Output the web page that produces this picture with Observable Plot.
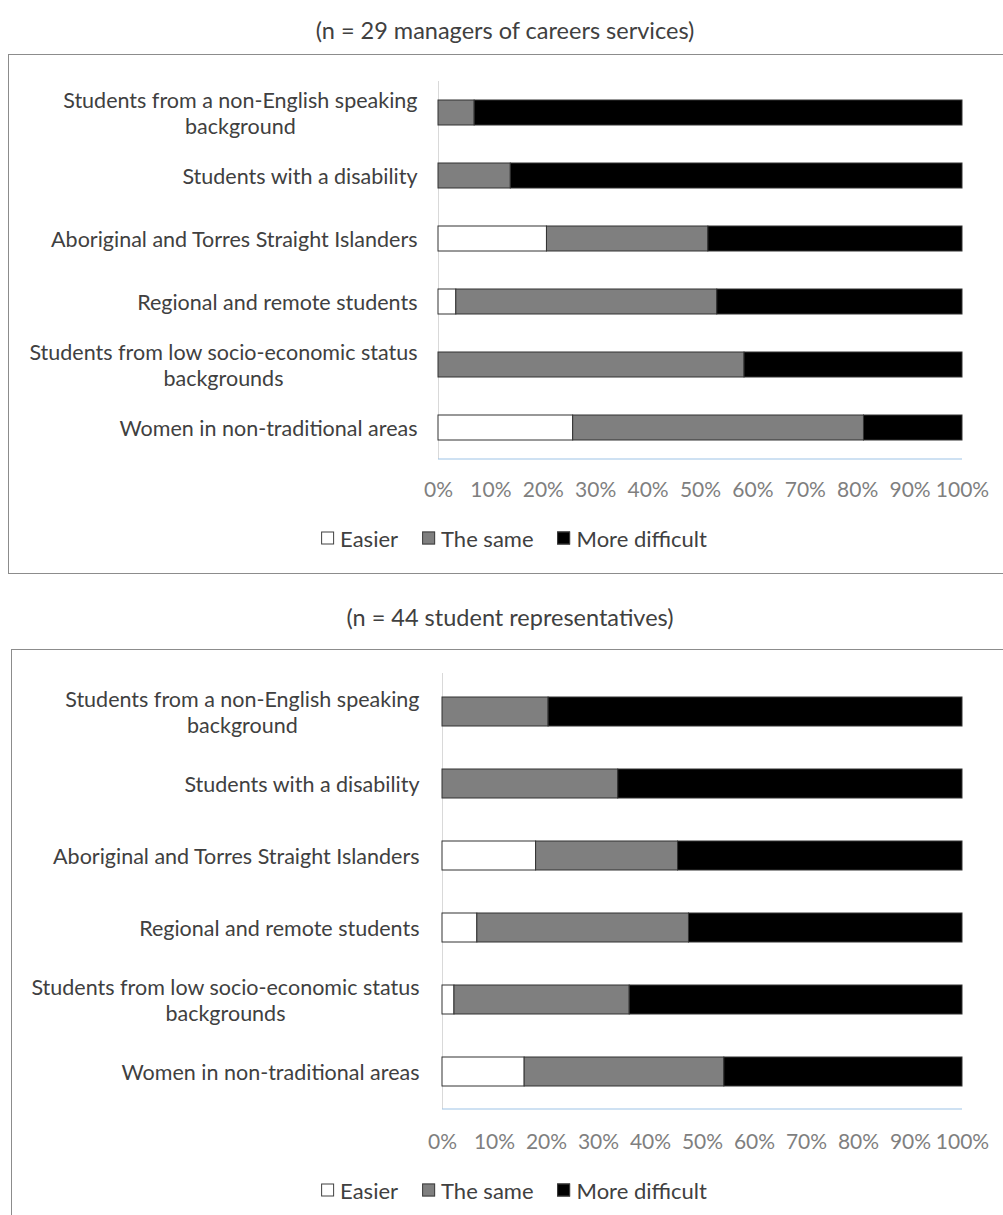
<!DOCTYPE html>
<html>
<head>
<meta charset="utf-8">
<script src="https://cdn.jsdelivr.net/npm/d3@7"></script>
<script src="https://cdn.jsdelivr.net/npm/@observablehq/plot@0.6"></script>
<style>
  body { margin: 0; background: #fff; font-family: Lato, "Open Sans", sans-serif; }
  #page { position: relative; width: 1003px; height: 1215px; overflow: hidden; }
  .panel { position: absolute; border: 1px solid #8c8c8c; border-right: none; box-sizing: border-box; }
  .title { position: absolute; transform: translate(-50%, -50%); font-size: 23.5px; color: #404040; white-space: nowrap; }
  .chart { position: absolute; left: 0; }
  .legend { position: absolute; transform: translate(-50%, -50%); display: flex; gap: 24px; align-items: center;
            font-size: 22px; color: #404040; white-space: nowrap; }
  .legend .item { display: flex; align-items: center; gap: 6px; }
  .legend .sw { width: 13px; height: 13px; border: 1px solid #404040; box-sizing: border-box; }
</style>
</head>
<body>
<div id="page"></div>
<script>
// Groups of students, listed top to bottom
const categories = [
  "Non-English speaking background",
  "Disability",
  "Aboriginal and Torres Strait",
  "Regional and remote",
  "Low socio-economic status",
  "Women in non-traditional areas"
];
const categoryLabels = [
  "Students from a non-English speaking\nbackground",
  "Students with a disability",
  "Aboriginal and Torres Straight Islanders",
  "Regional and remote students",
  "Students from low socio-economic status\nbackgrounds",
  "Women in non-traditional areas"
];

// Response options and their fills
const responses = ["Easier", "The same", "More difficult"];
const responseColors = ["#ffffff", "#7f7f7f", "#000000"];

// Axis ticks (percent)
const tickValues = [0, 10, 20, 30, 40, 50, 60, 70, 80, 90, 100];

// Managers of careers services (n = 29), percent of respondents
const managersEasier = [0, 0, 20.7, 3.4, 0, 25.7];
const managersSame   = [6.9, 13.8, 30.8, 49.8, 58.4, 55.5];
const managersMore   = [93.1, 86.2, 48.5, 46.8, 41.6, 18.8];

// Student representatives (n = 44), percent of respondents
const studentsEasier = [0, 0, 18.0, 6.7, 2.3, 15.8];
const studentsSame   = [20.4, 33.8, 27.3, 40.7, 33.7, 38.4];
const studentsMore   = [79.6, 66.2, 54.7, 52.6, 64.0, 45.8];

const panelTitles = [
  "(n = 29 managers of careers services)",
  "(n = 44 student representatives)"
];

const page = document.getElementById("page");

function drawPanel(layout, title, easier, same, more) {
  // framed box
  const box = document.createElement("div");
  box.className = "panel";
  Object.assign(box.style, {
    left: layout.boxLeft + "px", top: layout.boxTop + "px",
    width: (1003 - layout.boxLeft + 20) + "px", height: layout.boxHeight + "px"
  });
  page.appendChild(box);

  // heading above the box
  const t = document.createElement("div");
  t.className = "title";
  t.textContent = title;
  Object.assign(t.style, { left: layout.titleX + "px", top: layout.titleY + "px" });
  page.appendChild(t);

  // long-format rows for the stacked bars
  const rows = categories.flatMap((c, i) => [
    { category: c, response: responses[0], value: easier[i] },
    { category: c, response: responses[1], value: same[i] },
    { category: c, response: responses[2], value: more[i] }
  ]);
  const labelOf = new Map(categories.map((c, i) => [c, categoryLabels[i]]));

  const plot = Plot.plot({
    width: 1003,
    height: layout.svgHeight,
    marginLeft: layout.x0,
    marginRight: 1003 - layout.x1,
    marginTop: layout.mt,
    marginBottom: layout.mb,
    style: { fontFamily: "Lato, 'Open Sans', sans-serif", fontSize: "21px", background: "transparent", overflow: "visible" },
    x: { domain: [0, 100] },
    y: { domain: categories, paddingInner: 0.6, paddingOuter: 0.3 },
    color: { domain: responses, range: responseColors },
    marks: [
      Plot.ruleX([0], { stroke: "#d9d9d9" }),
      Plot.barX(rows, { y: "category", x: "value", fill: "response", stroke: "#333333", strokeWidth: 1 }),
      Plot.axisX({ ticks: tickValues, tickFormat: d => d + "%", tickSize: 0, tickPadding: layout.xPad, color: "#7f7f7f", label: null }),
      Plot.axisY({ tickSize: 0, tickPadding: layout.yPad, tickFormat: d => labelOf.get(d), textAnchor: "middle",
                   fontSize: 21.5, lineHeight: 1.2, color: "#404040", label: null })
    ]
  });
  plot.classList.add("chart");
  plot.style.top = layout.svgTop + "px";
  page.appendChild(plot);

  // baseline along the value axis
  const xr = plot.scale("x").range;
  const yr = plot.scale("y").range;
  d3.select(plot).append("line")
    .attr("x1", xr[0]).attr("x2", xr[1])
    .attr("y1", yr[1]).attr("y2", yr[1])
    .attr("stroke", "#9dc3e6").attr("stroke-width", 1);

  // category labels: centred lines, right edge flush against the axis gap
  d3.select(plot).selectAll("g[aria-label='y-axis tick label'] text").each(function () {
    const b = this.getBBox();
    const shift = -(b.x + b.width);
    const tr = this.getAttribute("transform") || "";
    this.setAttribute("transform", tr + ` translate(${shift},0)`);
  });

  // legend below the axis
  const lg = document.createElement("div");
  lg.className = "legend";
  Object.assign(lg.style, { left: layout.legendX + "px", top: layout.legendY + "px" });
  responses.forEach((r, i) => {
    const item = document.createElement("div");
    item.className = "item";
    const sw = document.createElement("div");
    sw.className = "sw";
    sw.style.background = responseColors[i];
    const tx = document.createElement("span");
    tx.textContent = r;
    item.appendChild(sw);
    item.appendChild(tx);
    lg.appendChild(item);
  });
  page.appendChild(lg);
}

drawPanel(
  { boxLeft: 8, boxTop: 54, boxHeight: 520, titleX: 505, titleY: 30,
    svgTop: 60, svgHeight: 460, mt: 21, mb: 61, x0: 438, x1: 962, xPad: 23, yPad: 21,
    legendX: 514, legendY: 538 },
  panelTitles[0], managersEasier, managersSame, managersMore
);
drawPanel(
  { boxLeft: 11, boxTop: 649, boxHeight: 620, titleX: 510, titleY: 617,
    svgTop: 650, svgHeight: 510, mt: 23, mb: 51, x0: 442, x1: 962, xPad: 25, yPad: 23,
    legendX: 514, legendY: 1190 },
  panelTitles[1], studentsEasier, studentsSame, studentsMore
);
</script>
</body>
</html>
